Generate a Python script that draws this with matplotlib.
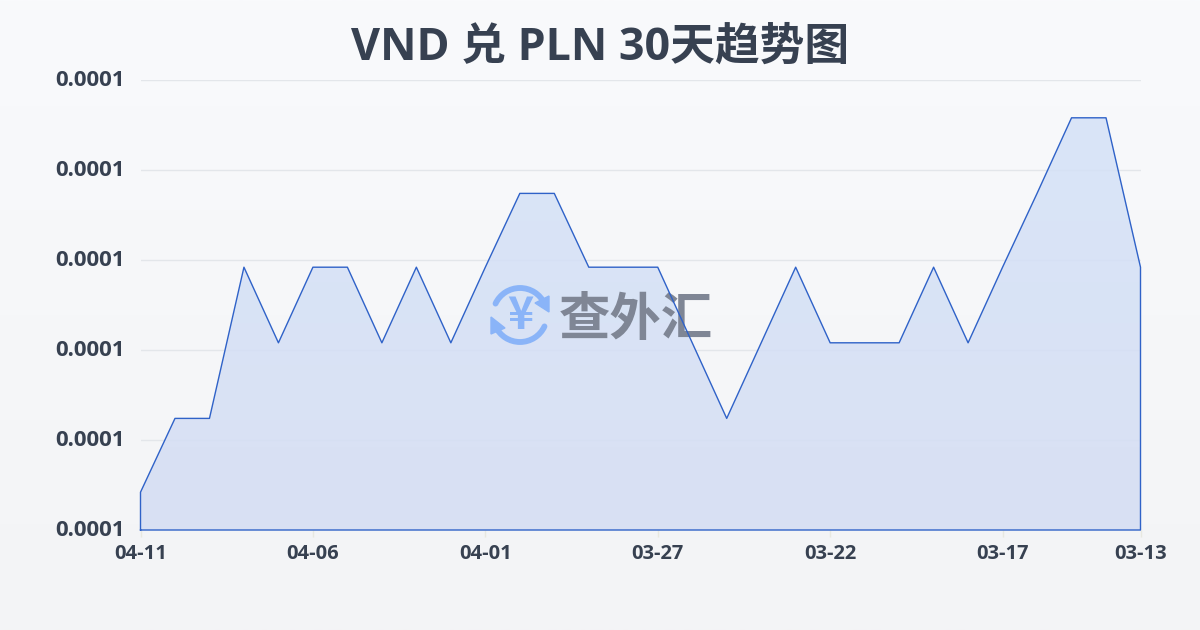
# VND / PLN 30 day trend chart

import numpy as np
import matplotlib
matplotlib.use('Agg')
import matplotlib.pyplot as plt
from matplotlib.patches import Arc, Polygon
from matplotlib.transforms import Affine2D

plt.rcParams['font.family'] = ['Open Sans', 'Noto Sans CJK SC', 'DejaVu Sans']

title = "VND 兑 PLN 30天趋势图"
watermark = "查外汇"

# newest day first, the chart runs backwards in time
tick_labels = ["04-11", "04-06", "04-01", "03-27", "03-22", "03-17", "03-13"]
tick_index = [0, 5, 10, 15, 20, 25, 29]
rates = [6.42e-5, 7.24e-5, 7.24e-5, 8.92e-5, 8.08e-5, 8.92e-5, 8.92e-5, 8.08e-5,
         8.92e-5, 8.08e-5, 8.92e-5, 9.74e-5, 9.74e-5, 8.92e-5, 8.92e-5, 8.92e-5,
         8.08e-5, 7.24e-5, 8.08e-5, 8.92e-5, 8.08e-5, 8.08e-5, 8.08e-5, 8.92e-5,
         8.08e-5, 8.92e-5, 9.74e-5, 10.58e-5, 10.58e-5, 8.92e-5]
y_ticks = [6e-5, 7e-5, 8e-5, 9e-5, 10e-5, 11e-5]

W, H = 1200, 630
days = np.arange(len(rates))
rates = np.array(rates)

fig = plt.figure(figsize=(W / 100, H / 100), dpi=100)

# page background gradient
bg = fig.add_axes([0, 0, 1, 1], zorder=0)
bg.axis('off')
top = np.array([249, 250, 252]) / 255
bottom = np.array([243, 244, 246]) / 255
grad = np.linspace(0, 1, 256)[:, None, None]
bg.imshow(top + (bottom - top) * grad, aspect='auto', extent=[0, 1, 0, 1])

ax = fig.add_axes([140.5 / W, 1 - 530 / H, 1000 / W, 450 / H], zorder=1)
ax.patch.set_alpha(0)
ax.set_xlim(0, len(rates) - 1)
ax.set_ylim(y_ticks[0], y_ticks[-1])
for s in ax.spines.values():
    s.set_visible(False)

ax.set_yticks(y_ticks)
ax.set_yticklabels(["%.4f" % v for v in y_ticks], fontsize=16, fontweight='bold', color='#374151')
ax.set_xticks(tick_index)
ax.set_xticklabels(tick_labels, fontsize=14.5, fontweight='bold', color='#374151')
ax.tick_params(axis='y', length=0, pad=11)
ax.tick_params(axis='x', length=5, color='#e8e8e0', width=1, pad=5)
# y labels sit a little above their grid lines
for lab in ax.get_yticklabels():
    lab.set_transform(lab.get_transform() + Affine2D().translate(0, 2))
ax.grid(True, axis='y', color='#e3e6ea', linewidth=1)
ax.set_axisbelow(True)

# area fill, slightly different tint from top to bottom
fill = ax.fill_between(days, rates, y_ticks[0], color='none', zorder=2)
c1 = np.array([212, 226, 248, 215]) / 255
c2 = np.array([214, 222, 243, 225]) / 255
area = ax.imshow(c1 + (c2 - c1) * grad, aspect='auto', zorder=2,
                 extent=[0, len(rates) - 1, y_ticks[0], rates.max()])
area.set_clip_path(fill.get_paths()[0], ax.transData)
ax.set_xlim(0, len(rates) - 1)
ax.set_ylim(y_ticks[0], y_ticks[-1])

# watermark placed in picture pixels, under the line
px = Affine2D().scale(1, -1).translate(0, H)
blue = '#8ab4f8'
ax.text(636, 319, watermark, transform=px, fontsize=37, fontweight='bold', color='#7f8695',
        family=['Noto Sans CJK SC'], ha='center', va='center', zorder=3, clip_on=False)
ax.add_patch(Arc((520, 315), 54, 54, theta1=205, theta2=335, color=blue, lw=4.2,
                 transform=px, zorder=3, capstyle='round'))
ax.add_patch(Arc((520, 315), 54, 54, theta1=25, theta2=155, color=blue, lw=4.2,
                 transform=px, zorder=3, capstyle='round'))
ax.add_patch(Polygon([(549, 296), (549, 312), (535, 303)], closed=True, color=blue,
                     transform=px, zorder=3))
ax.add_patch(Polygon([(491, 317), (491, 334), (505, 328)], closed=True, color=blue,
                     transform=px, zorder=3))
ax.text(520, 316, "¥", transform=px, fontsize=32, fontweight='bold', color=blue,
        family=['Noto Sans CJK SC'], ha='center', va='center', zorder=3, clip_on=False)

# outline goes all round the area
ax.plot(np.r_[0, days, days[-1], 0], np.r_[y_ticks[0], rates, y_ticks[0], y_ticks[0]],
        color='#2f62c8', linewidth=1, zorder=4, clip_on=False)

fig.text(600 / W, 1 - 48 / H, title, fontsize=32.2, fontweight='bold', color='#374151',
         ha='center', va='center')

fig.savefig('out.png', dpi=100)
